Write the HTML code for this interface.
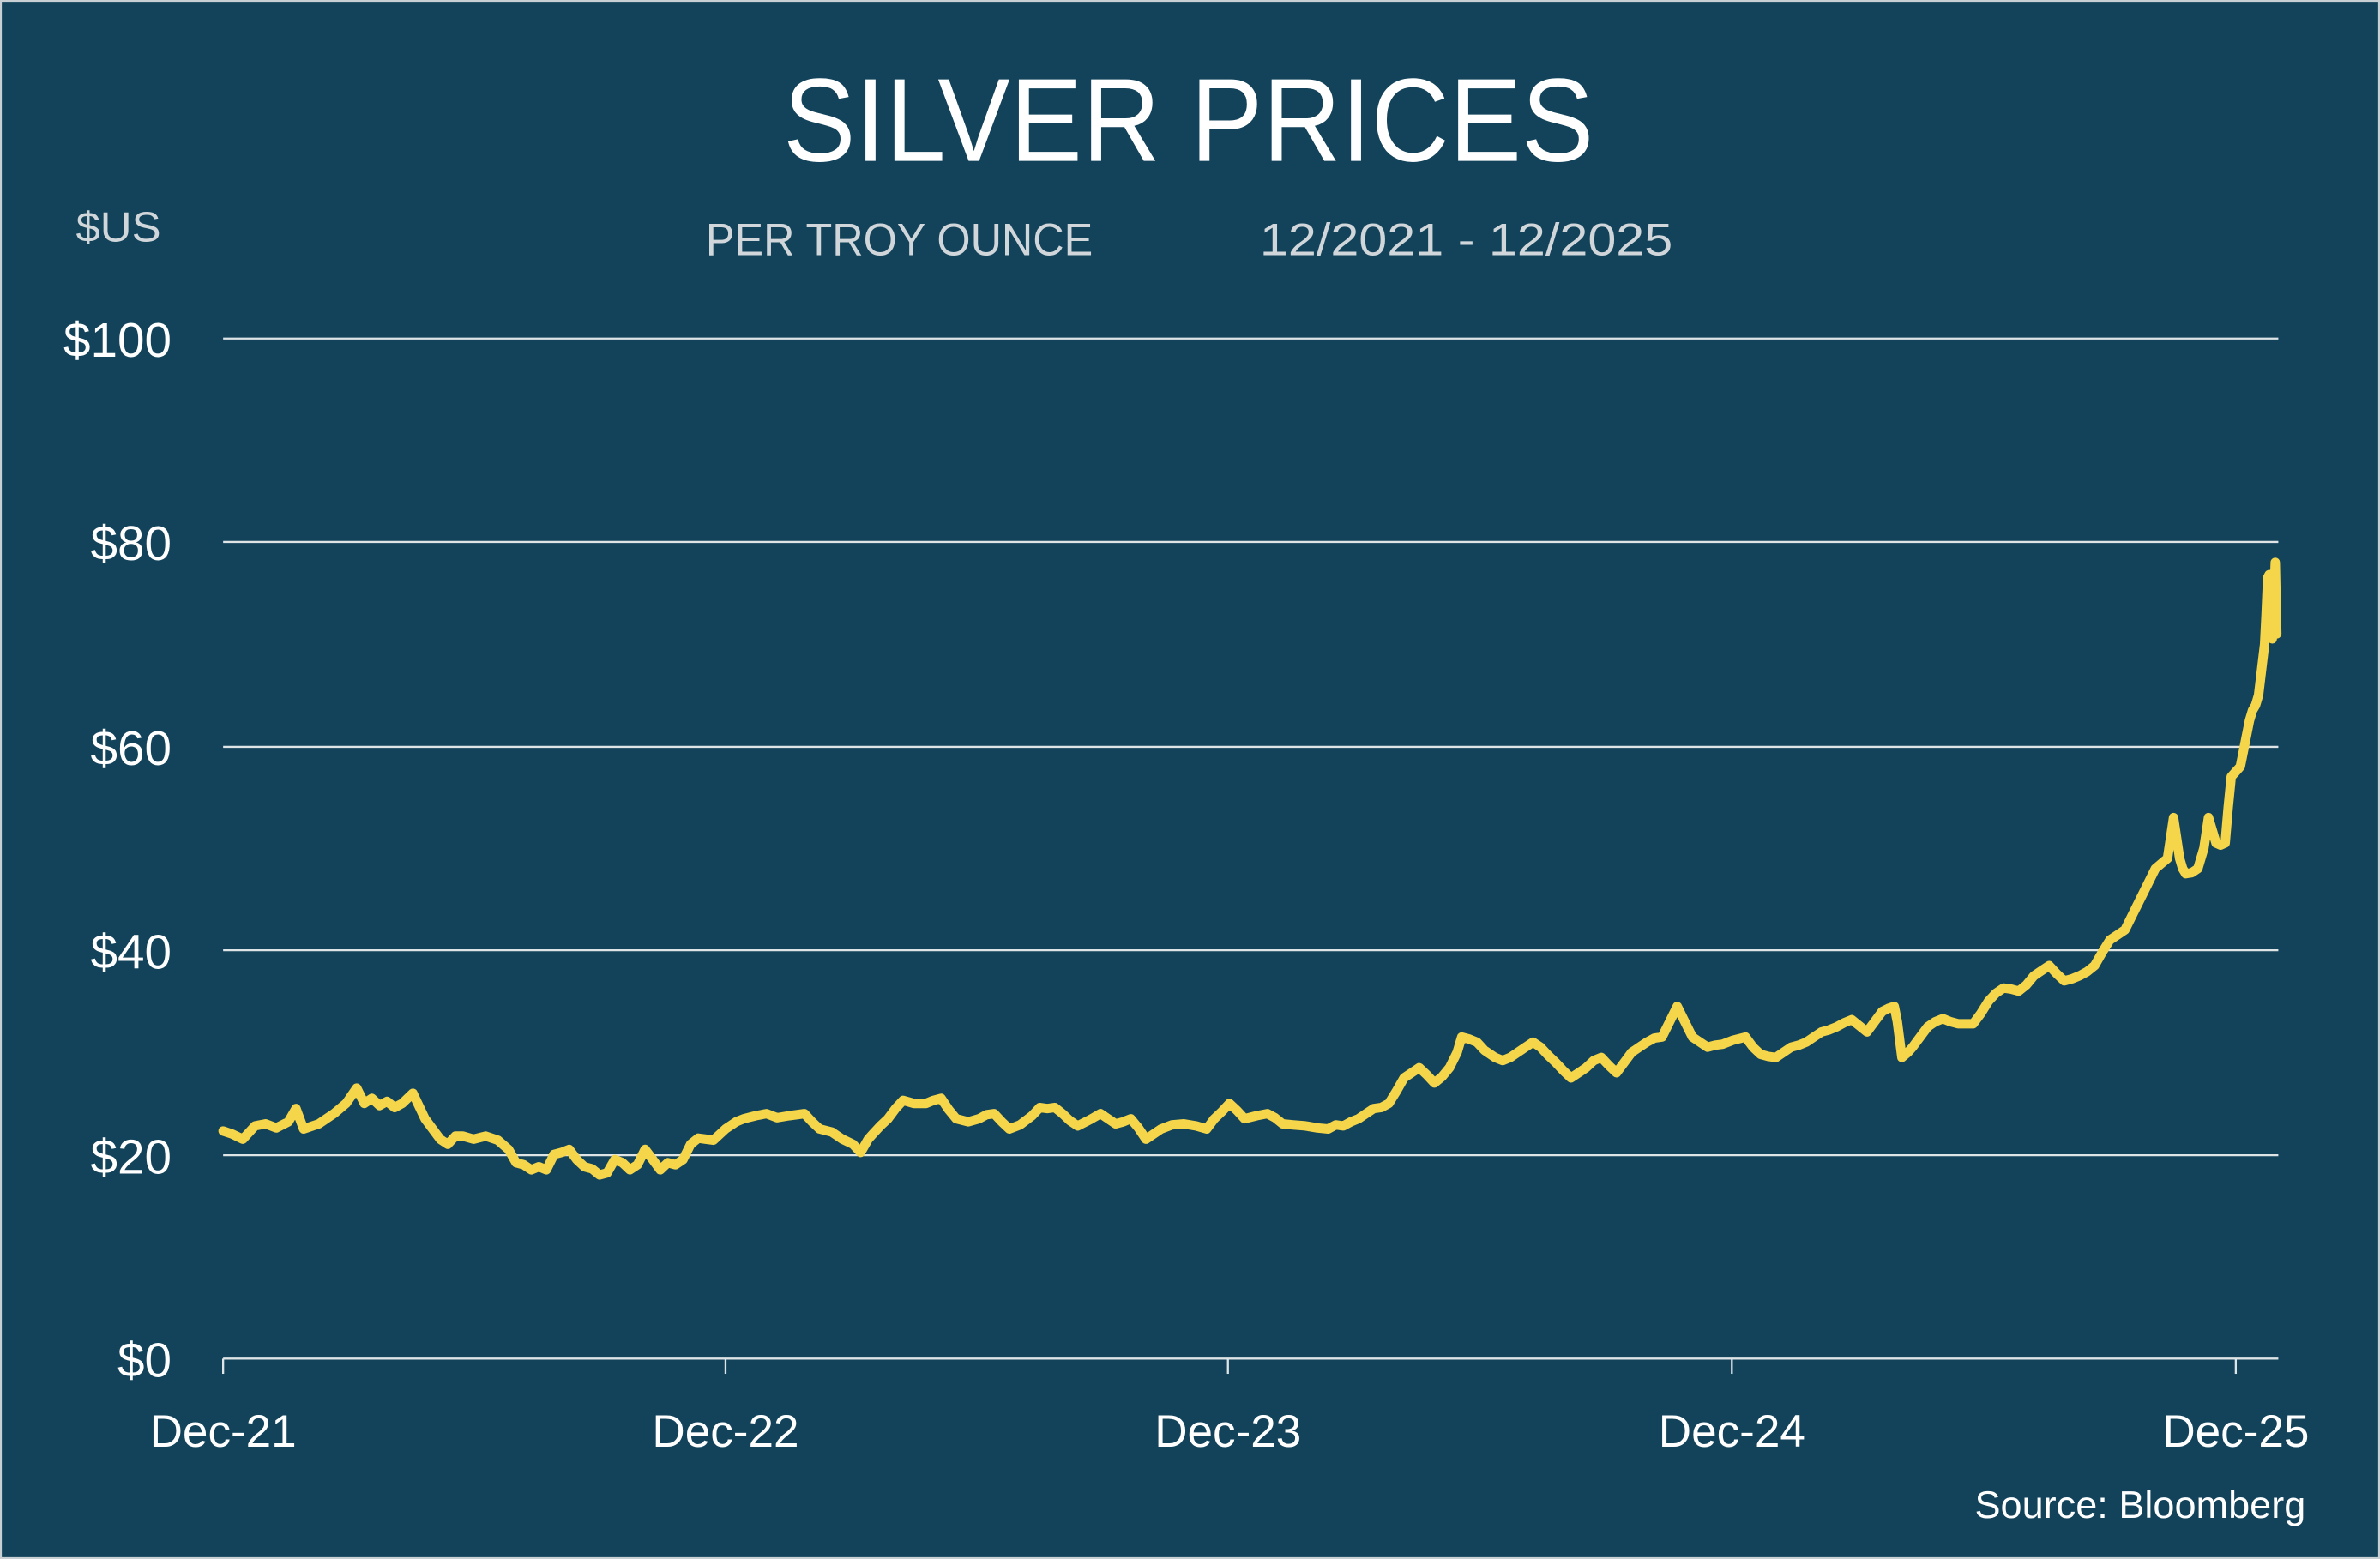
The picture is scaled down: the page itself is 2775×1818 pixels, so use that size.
<!DOCTYPE html>
<html><head><meta charset="utf-8"><style>
html,body{margin:0;padding:0;background:#12435a;}
svg{display:block;}
text{font-family:"Liberation Sans",sans-serif;}
</style></head><body>
<svg width="2775" height="1818" viewBox="0 0 1568 1027" preserveAspectRatio="none" xmlns="http://www.w3.org/2000/svg">
<rect x="0" y="0" width="1568" height="1027" fill="#12435a"/>
<rect x="0.6" y="0.6" width="1566.8" height="1025.8" fill="none" stroke="#c8d0d4" stroke-width="1.2"/>
<text x="783" y="106" text-anchor="middle" fill="#fff" font-size="78" textLength="534" lengthAdjust="spacingAndGlyphs">SILVER PRICES</text>
<text x="50" y="159" fill="#d0d6da" font-size="28" textLength="56" lengthAdjust="spacingAndGlyphs">$US</text>
<text x="465" y="168" fill="#d0d6da" font-size="30" textLength="255" lengthAdjust="spacingAndGlyphs">PER TROY OUNCE</text>
<text x="830" y="168" fill="#d0d6da" font-size="30" textLength="272" lengthAdjust="spacingAndGlyphs">12/2021 - 12/2025</text>
<g stroke="#dfe4e6" stroke-width="1.3">
<line x1="147" y1="223" x2="1501" y2="223"/><line x1="147" y1="357" x2="1501" y2="357"/>
<line x1="147" y1="492" x2="1501" y2="492"/><line x1="147" y1="626" x2="1501" y2="626"/>
<line x1="147" y1="761" x2="1501" y2="761"/><line x1="147" y1="895" x2="1501" y2="895"/>
<line x1="147" y1="895" x2="147" y2="905"/><line x1="478" y1="895" x2="478" y2="905"/>
<line x1="809" y1="895" x2="809" y2="905"/><line x1="1141" y1="895" x2="1141" y2="905"/>
<line x1="1473" y1="895" x2="1473" y2="905"/>
</g>
<g fill="#fff" font-size="32" text-anchor="end">
<text x="113" y="235">$100</text><text x="113" y="369">$80</text><text x="113" y="504">$60</text>
<text x="113" y="638">$40</text><text x="113" y="773">$20</text><text x="113" y="907">$0</text>
</g>
<g fill="#fff" font-size="30" text-anchor="middle">
<text x="147" y="953">Dec-21</text><text x="478" y="953">Dec-22</text><text x="809" y="953">Dec-23</text>
<text x="1141" y="953">Dec-24</text><text x="1473" y="953">Dec-25</text>
</g>
<text x="1519" y="1000" text-anchor="end" fill="#fff" font-size="25" textLength="218" lengthAdjust="spacingAndGlyphs">Source: Bloomberg</text>
<g transform="translate(0,895) scale(1,-6.725)">
<polyline fill="none" stroke="#f5d54a" stroke-width="11" vector-effect="non-scaling-stroke" stroke-linejoin="round" stroke-linecap="round" points="147,22.3 153,22 160,21.5 168,22.8 175,23 182,22.6 190,23.2 195,24.5 200,22.5 210,23 220,24 228,25 235,26.5 240,25 245,25.5 250,24.8 255,25.2 260,24.6 265,25 272,26 280,23.5 290,21.5 295,21 300,21.8 305,21.8 312,21.5 320,21.8 328,21.4 335,20.5 340,19.2 345,19 350,18.5 355,18.8 360,18.5 365,20 370,20.2 375,20.5 380,19.5 385,18.8 390,18.6 395,18 400,18.2 405,19.5 410,19.2 415,18.5 420,19 425,20.5 430,19.5 435,18.5 440,19.2 445,19 450,19.5 455,21 460,21.6 465,21.5 470,21.4 478,22.5 485,23.2 490,23.5 498,23.8 505,24 512,23.6 520,23.8 530,24 535,23.2 540,22.5 548,22.2 555,21.5 562,21 567,20.2 572,21.5 575,22 580,22.8 585,23.5 590,24.5 595,25.3 602,25 610,25 615,25.3 620,25.5 625,24.4 630,23.5 638,23.2 645,23.5 650,23.9 655,24 660,23.2 665,22.5 672,22.9 680,23.8 685,24.6 690,24.5 695,24.6 700,24 705,23.3 710,22.8 718,23.4 725,24 730,23.5 735,23 740,23.2 745,23.5 750,22.6 755,21.5 760,22 765,22.5 772,22.9 780,23 788,22.8 795,22.5 800,23.5 805,24.2 810,25 815,24.3 820,23.5 828,23.8 835,24 840,23.6 845,23 852,22.9 860,22.8 868,22.6 875,22.5 880,22.9 885,22.8 890,23.2 895,23.5 900,24 905,24.5 910,24.6 915,25 920,26.2 925,27.5 930,28 935,28.5 940,27.8 945,27 950,27.6 955,28.5 960,30 963,31.5 968,31.3 973,31 978,30.2 985,29.5 990,29.2 995,29.5 1000,30 1005,30.5 1010,31 1015,30.5 1020,29.7 1025,29 1030,28.2 1035,27.5 1040,28 1045,28.5 1050,29.2 1055,29.5 1060,28.7 1065,28 1070,29 1075,30 1080,30.5 1085,31 1090,31.4 1095,31.5 1100,33 1105,34.5 1110,33 1115,31.5 1120,31 1125,30.5 1130,30.7 1135,30.8 1142,31.2 1150,31.5 1155,30.5 1160,29.8 1165,29.6 1170,29.5 1175,30 1180,30.5 1185,30.7 1190,31 1195,31.5 1200,32 1205,32.2 1210,32.5 1215,32.9 1220,33.2 1225,32.6 1230,32 1235,33 1240,34 1244,34.3 1248,34.5 1250,33 1253,29.5 1257,30 1260,30.5 1265,31.5 1270,32.5 1275,33 1280,33.3 1285,33 1290,32.8 1295,32.8 1300,32.8 1305,33.8 1310,35 1315,35.8 1320,36.3 1325,36.2 1330,36 1335,36.6 1340,37.5 1345,38 1350,38.5 1355,37.7 1360,37 1365,37.2 1370,37.5 1375,37.9 1380,38.5 1385,39.8 1390,41 1395,41.5 1400,42 1405,43.5 1410,45 1415,46.5 1420,48 1424,48.5 1428,49 1430,51 1432,53 1434,51 1436,49 1438,48 1440,47.5 1444,47.6 1448,48 1452,50 1455,53 1458,51.5 1460,50.5 1463,50.3 1466,50.5 1468,54 1470,57 1473,57.5 1476,58 1478,59.5 1480,61 1482,62.5 1484,63.5 1486,64 1488,65 1490,67.5 1492,70 1493,73 1494,76.5 1495,76.8 1496,76.5 1497,70.5 1498,74 1499,78 1500,71"/>
</g>
</svg>
</body></html>
